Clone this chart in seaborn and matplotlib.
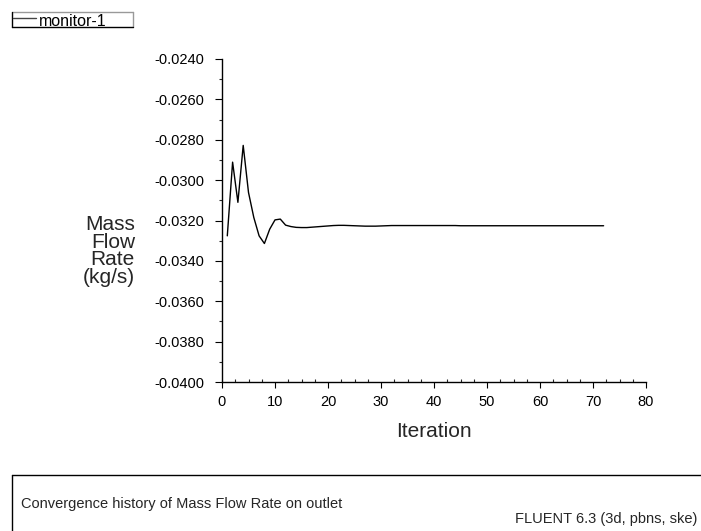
import matplotlib
matplotlib.use("Agg")
import matplotlib.pyplot as plt
from matplotlib.ticker import MultipleLocator, FormatStrFormatter
import seaborn as sns
import pandas as pd

iterations = list(range(1, 73))
mass_flow = [
    -0.03276, -0.02911, -0.03110, -0.02828, -0.03061, -0.03185, -0.03276, -0.03314,
    -0.03243, -0.03197, -0.03193, -0.03223, -0.03230, -0.03234, -0.03235, -0.03235,
    -0.03233, -0.03231, -0.03229, -0.03227, -0.03225, -0.03224, -0.03224, -0.03225,
    -0.03226, -0.03227, -0.03228, -0.03228, -0.03228, -0.03227, -0.03226, -0.03225,
    -0.03225, -0.03225, -0.03225, -0.03225, -0.03225, -0.03225, -0.03225, -0.03225,
    -0.03225, -0.03225, -0.03225, -0.03225, -0.03226, -0.03226, -0.03226, -0.03226,
    -0.03226, -0.03226, -0.03226, -0.03226, -0.03226, -0.03226, -0.03226, -0.03226,
    -0.03226, -0.03226, -0.03226, -0.03226, -0.03226, -0.03226, -0.03226, -0.03226,
    -0.03226, -0.03226, -0.03226, -0.03226, -0.03226, -0.03226, -0.03226, -0.03226,
]
series_name = "monitor-1"
x_label = "Iteration"
y_label = "Mass\nFlow\nRate\n(kg/s)"
caption = "Convergence history of Mass Flow Rate on outlet"
solver_info = "FLUENT 6.3 (3d, pbns, ske)"

sns.set_style("white")
plt.rcParams["font.family"] = ["Liberation Sans", "DejaVu Sans"]

df = pd.DataFrame({"Iteration": iterations, "value": mass_flow})

W, H = 701, 531
fig = plt.figure(figsize=(W / 100, H / 100), dpi=100)
ax = fig.add_axes([222 / W, 1 - 382 / H, (646 - 222) / W, (382 - 59) / H])

sns.lineplot(data=df, x="Iteration", y="value", ax=ax, color="black", linewidth=1.0)

ax.set_xlim(0, 80)
ax.set_ylim(-0.0400, -0.0240)
ax.xaxis.set_major_locator(MultipleLocator(10))
ax.xaxis.set_minor_locator(MultipleLocator(2.5))
ax.yaxis.set_major_locator(MultipleLocator(0.002))
ax.yaxis.set_minor_locator(MultipleLocator(0.001))
ax.yaxis.set_major_formatter(FormatStrFormatter("%.4f"))

for s in ["top", "right"]:
    ax.spines[s].set_visible(False)
for s in ["left", "bottom"]:
    ax.spines[s].set_color("black")
    ax.spines[s].set_linewidth(1.0)

ax.tick_params(axis="both", which="major", labelsize=10.5, colors="black", width=0.8)
ax.tick_params(axis="y", which="major", direction="out", length=5, left=True, pad=8)
ax.tick_params(axis="y", which="minor", direction="out", length=2.5, left=True, width=0.8)
ax.tick_params(axis="x", which="major", direction="out", length=4, bottom=True, pad=5.5)
ax.tick_params(axis="x", which="minor", direction="in", length=2.5, bottom=True, width=0.8)

ax.set_xlabel(x_label, fontsize=15, labelpad=9.5)
ax.set_ylabel("")
fig.text(135 / W, 1 - 251 / H, y_label, ha="right", va="center", fontsize=15,
         linespacing=0.93, multialignment="right")

# legend box
lg = fig.add_axes([12 / W, 1 - 27 / H, (133 - 12) / W, 15 / H])
lg.set_xlim(0, 121)
lg.set_ylim(15, 0)
lg.set_axis_off()
lg.plot([0, 121], [0.4, 0.4], color="#999999", lw=1, clip_on=False)
lg.plot([120.6, 120.6], [0, 15], color="#999999", lw=1, clip_on=False)
lg.plot([0.4, 0.4], [0, 15], color="black", lw=1, clip_on=False)
lg.plot([0, 121], [14.6, 14.6], color="black", lw=1, clip_on=False)
lg.plot([1, 24], [6.3, 6.3], color="#444444", lw=1, clip_on=False)
lg.text(27, 14.5, series_name, fontsize=11.5, ha="left", va="baseline", color="black")

# bottom caption box
fig.add_artist(plt.Line2D([12 / W, 1], [1 - 475 / H, 1 - 475 / H], color="black", lw=1,
                          transform=fig.transFigure))
fig.add_artist(plt.Line2D([12 / W, 12 / W], [0, 1 - 475 / H], color="black", lw=1,
                          transform=fig.transFigure))
fig.text(21 / W, 1 - 504 / H, caption, ha="left", va="center", fontsize=10.5)
fig.text(697 / W, 1 - 519 / H, solver_info, ha="right", va="center", fontsize=10.5)

fig.savefig("out.png", dpi=100)
